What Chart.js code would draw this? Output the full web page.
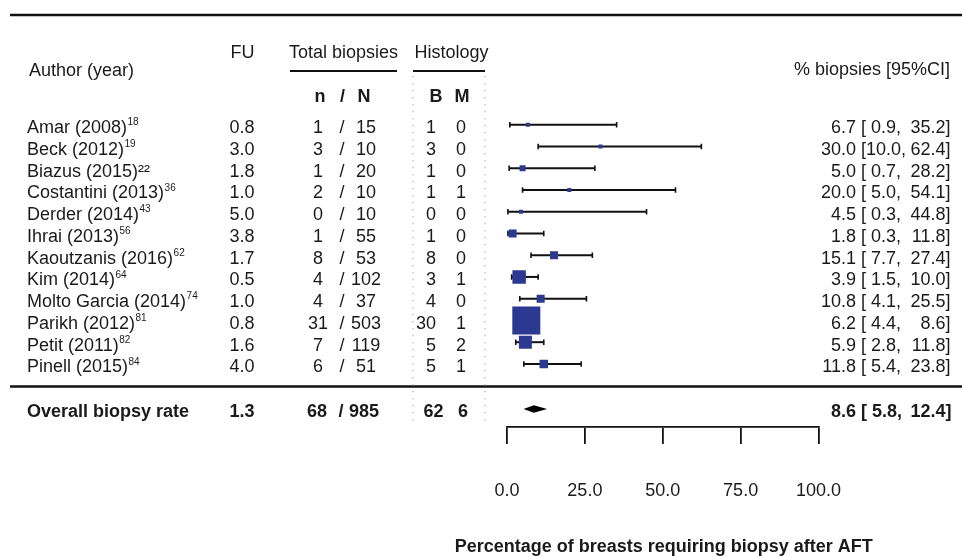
<!DOCTYPE html>
<html><head><meta charset="utf-8">
<script src="https://cdn.jsdelivr.net/npm/chart.js@4.4.1/dist/chart.umd.min.js"></script>
<style>html,body{margin:0;padding:0;background:#fff}canvas{display:block}</style>
</head><body>
<canvas id="c" width="962" height="556"></canvas>
<script>
// ---------------- data ----------------
const authors = ["Amar (2008)","Beck (2012)","Biazus (2015)\u00b2\u00b2","Costantini (2013)","Derder (2014)","Ihrai (2013)","Kaoutzanis (2016)","Kim (2014)","Molto Garcia (2014)","Parikh (2012)","Petit (2011)","Pinell (2015)"];
const refs = ["18","19","","36","43","56","62","64","74","81","82","84"];
const followUp = [0.8,3.0,1.8,1.0,5.0,3.8,1.7,0.5,1.0,0.8,1.6,4.0];
const nBiopsies = [1,3,1,2,0,1,8,4,4,31,7,6];
const nBreasts = [15,10,20,10,10,55,53,102,37,503,119,51];
const benign = [1,3,1,1,0,1,8,3,4,30,5,5];
const malignant = [0,0,0,1,0,0,0,1,0,1,2,1];
const estimate = [6.7,30.0,5.0,20.0,4.5,1.8,15.1,3.9,10.8,6.2,5.9,11.8];
const lower = [0.9,10.0,0.7,5.0,0.3,0.3,7.7,1.5,4.1,4.4,2.8,5.4];
const upper = [35.2,62.4,28.2,54.1,44.8,11.8,27.4,10.0,25.5,8.6,11.8,23.8];
const weights = [1.1,1.1,2.4,1.1,1.1,4.3,4.3,12.1,4.3,52.3,11.3,4.8];
const overallLabel = "Overall biopsy rate";
const overallFU = 1.3;
const overallN = [68, 985];
const overallHist = [62, 6];
const overallEst = [8.6, 5.8, 12.4];
const xTicks = [0, 25, 50, 75, 100];
const axisTitle = "Percentage of breasts requiring biopsy after AFT";

// ---------------- layout / style ----------------
const FONT = '"Liberation Sans", Arial, Helvetica, sans-serif';
const FS = 18;
const TXT = '#1a1a1a';
const BOX = '#2c3991';
const OVERALL_ROW = 14.07;
const TEXT_DY = 3.5;
const BOX_K = 3.872;

function f1(v){ return v.toFixed(1); }

const forestPlugin = {
  id: 'forest',
  beforeDatasetsDraw(chart) {
    const ctx = chart.ctx, xs = chart.scales.x, ys = chart.scales.y;
    ctx.save();
    ctx.strokeStyle = '#111';
    for (let i = 0; i < estimate.length; i++) {
      const y = ys.getPixelForValue(i + 1);
      const x1 = xs.getPixelForValue(lower[i]), x2 = xs.getPixelForValue(upper[i]);
      ctx.lineWidth = 2;
      ctx.beginPath(); ctx.moveTo(x1, y); ctx.lineTo(x2, y); ctx.stroke();
      ctx.lineWidth = 1.6;
      ctx.beginPath();
      ctx.moveTo(x1, y - 2.8); ctx.lineTo(x1, y + 2.8);
      ctx.moveTo(x2, y - 2.8); ctx.lineTo(x2, y + 2.8);
      ctx.stroke();
    }
    ctx.restore();
  },
  afterDatasetsDraw(chart) {
    const ctx = chart.ctx, xs = chart.scales.x, ys = chart.scales.y;
    ctx.save();
    // rules
    ctx.strokeStyle = '#111';
    ctx.lineWidth = 2.4;
    ctx.beginPath(); ctx.moveTo(10, 15); ctx.lineTo(962, 15); ctx.stroke();
    ctx.beginPath(); ctx.moveTo(10, 386.5); ctx.lineTo(962, 386.5); ctx.stroke();
    ctx.lineWidth = 2;
    ctx.beginPath(); ctx.moveTo(290, 71); ctx.lineTo(397, 71); ctx.stroke();
    ctx.beginPath(); ctx.moveTo(413, 71); ctx.lineTo(485, 71); ctx.stroke();
    // dotted separators
    ctx.strokeStyle = '#b4b4b4';
    ctx.lineWidth = 1.3;
    ctx.setLineDash([1.3, 5.7]);
    [413, 485].forEach(x => { ctx.beginPath(); ctx.moveTo(x, 76); ctx.lineTo(x, 421); ctx.stroke(); });
    ctx.setLineDash([]);

    // diamond
    const yd = ys.getPixelForValue(OVERALL_ROW);
    const xe = xs.getPixelForValue(overallEst[0]);
    const xl = xs.getPixelForValue(overallEst[1]);
    const xh = xs.getPixelForValue(overallEst[2]);
    ctx.fillStyle = '#000';
    ctx.beginPath();
    ctx.moveTo(xl - 1.5, yd); ctx.lineTo(xe, yd - 3.8); ctx.lineTo(xh + 1.5, yd); ctx.lineTo(xe, yd + 3.8);
    ctx.closePath(); ctx.fill();

    // text helpers
    ctx.fillStyle = TXT;
    ctx.textBaseline = 'middle';
    const put = (t, x, y, align, bold, size) => {
      ctx.font = (bold ? 'bold ' : '') + (size || FS) + 'px ' + FONT;
      ctx.textAlign = align;
      ctx.fillText(t, x, y);
      return ctx.measureText(t).width;
    };
    // headers
    put('Author (year)', 29, 71, 'left');
    put('FU', 242.5, 53, 'center');
    put('Total biopsies', 343.5, 53, 'center');
    put('Histology', 451.5, 53, 'center');
    put('% biopsies [95%CI]', 950, 70, 'right');
    put('n', 320, 97, 'center', true);
    put('/', 342.5, 97, 'center', true);
    put('N', 364, 97, 'center', true);
    put('B', 436, 97, 'center', true);
    put('M', 462, 97, 'center', true);
    // axis title (drawn here so it is not squeezed into the plot width)
    put(axisTitle, (xs.left + xs.right) / 2 + 1, 547, 'center', true);

    const estCols = (vals, y, bold) => {
      put(f1(vals[0]), 856, y, 'right', bold);
      put('[' + f1(vals[1]).padStart(4, ' ') + ',', 861, y, 'left', bold);
      put(f1(vals[2]), 945.5, y, 'right', bold);
      put(']', 945.5, y, 'left', bold);
    };

    for (let i = 0; i < authors.length; i++) {
      const y = ys.getPixelForValue(i + 1) + TEXT_DY;
      const w = put(authors[i], 27, y, 'left');
      if (refs[i]) put(refs[i], 27 + w + 0.5, y - 5.5, 'left', false, 10);
      put(f1(followUp[i]), 242, y, 'center');
      put(String(nBiopsies[i]), 318, y, 'center');
      put('/', 342, y, 'center');
      put(String(nBreasts[i]), 366, y, 'center');
      put(String(benign[i]), 436, y, 'right');
      put(String(malignant[i]), 461, y, 'center');
      estCols([estimate[i], lower[i], upper[i]], y, false);
    }
    const yo = yd + TEXT_DY;
    put(overallLabel, 27, yo, 'left', true);
    put(f1(overallFU), 242, yo, 'center', true);
    put(String(overallN[0]), 317, yo, 'center', true);
    put('/', 341, yo, 'center', true);
    put(String(overallN[1]), 364, yo, 'center', true);
    put(String(overallHist[0]), 443.5, yo, 'right', true);
    put(String(overallHist[1]), 463, yo, 'center', true);
    estCols(overallEst, yo, true);
    ctx.restore();
  }
};

new Chart(document.getElementById('c'), {
  type: 'scatter',
  data: {
    datasets: [{
      data: estimate.map((e, i) => ({ x: e, y: i + 1 })),
      pointStyle: 'rect',
      pointRadius: ctx => BOX_K * Math.sqrt(weights[ctx.dataIndex]) / Math.SQRT2,
      pointBackgroundColor: BOX,
      pointBorderWidth: 0,
      backgroundColor: BOX,
      borderWidth: 0
    }]
  },
  options: {
    responsive: false,
    devicePixelRatio: 1,
    animation: false,
    events: [],
    layout: { padding: { left: 507, right: 143.5, top: 102.95, bottom: 18 } },
    plugins: { legend: { display: false }, tooltip: { enabled: false } },
    scales: {
      x: {
        type: 'linear', position: 'bottom', min: 0, max: 100,
        afterBuildTicks: s => { s.ticks = xTicks.map(v => ({ value: v })); },
        ticks: { callback: v => Number(v).toFixed(1), color: TXT, padding: 38, autoSkip: false, maxRotation: 0,
                 font: { family: FONT, size: FS, lineHeight: 1 } },
        grid: { drawOnChartArea: false, drawTicks: true, tickLength: 17, color: '#111', lineWidth: 1.8 },
        border: { display: true, color: '#111', width: 1.8 },
        title: { display: false }
      },
      y: { type: 'linear', display: false, min: 0, max: 14.9, reverse: true }
    }
  },
  plugins: [forestPlugin]
});
</script>
</body></html>
